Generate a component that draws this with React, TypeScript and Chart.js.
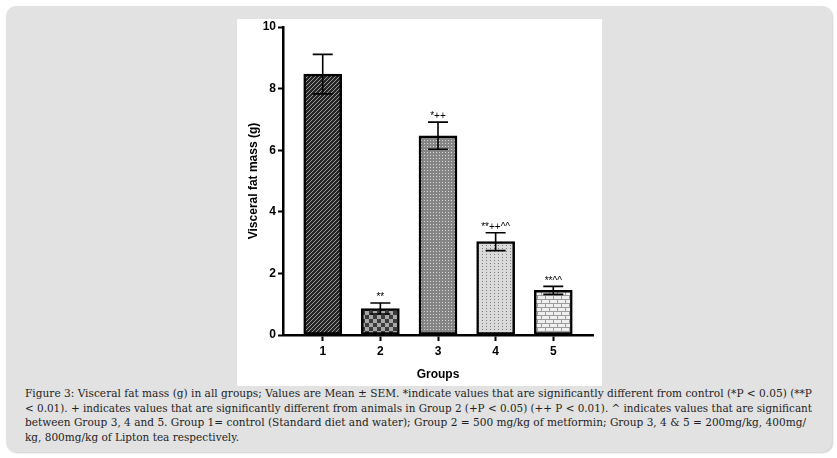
import React, { useEffect, useRef } from 'react';
import { Chart, registerables } from 'chart.js';

Chart.register(...registerables);

// ---- data ----
const groupLabels = ['1', '2', '3', '4', '5'];
const groupPositions = [1, 2, 3, 4, 5];
const meanValues = [8.47, 0.86, 6.47, 3.03, 1.45];
const semValues = [0.64, 0.18, 0.44, 0.29, 0.13];
const significanceMarks = ['', '**', '*++', '**++^^', '**^^'];
const yMin = 0;
const yMax = 10;
const yStep = 2;
const xTitle = 'Groups';
const yTitle = 'Visceral fat mass (g)';
const captionLines = [
  'Figure 3: Visceral fat mass (g) in all groups; Values are Mean \u00b1 SEM. *indicate values that are significantly different from control (*P < 0.05) (**P',
  '< 0.01). + indicates values that are significantly different from animals in Group 2 (+P < 0.05) (++ P < 0.01). ^ indicates values that are significant',
  'between Group 3, 4 and 5. Group 1= control (Standard diet and water); Group 2 = 500 mg/kg of metformin; Group 3, 4 & 5 = 200mg/kg, 400mg/',
  'kg, 800mg/kg of Lipton tea respectively.',
];
const captionTargetWidths = [787, 787, 781, 0];

// ---- patterns ----
function makePattern(kind: string): CanvasPattern | string {
  const c = document.createElement('canvas');
  const px = (ctx: CanvasRenderingContext2D, x: number, y: number, col: string) => {
    ctx.fillStyle = col;
    ctx.fillRect(x, y, 1, 1);
  };
  let ctx: CanvasRenderingContext2D;
  if (kind === 'diag') {
    c.width = 4; c.height = 4;
    ctx = c.getContext('2d')!;
    ctx.fillStyle = '#262626'; ctx.fillRect(0, 0, 4, 4);
    for (let i = 0; i < 4; i++) px(ctx, i, 3 - i, '#9a9a9a');
  } else if (kind === 'checker') {
    c.width = 8; c.height = 8;
    ctx = c.getContext('2d')!;
    ctx.fillStyle = '#a6a6a6'; ctx.fillRect(0, 0, 8, 8);
    ctx.fillStyle = '#3c3c3c'; ctx.fillRect(0, 0, 4, 4); ctx.fillRect(4, 4, 4, 4);
  } else if (kind === 'greydots') {
    c.width = 3; c.height = 3;
    ctx = c.getContext('2d')!;
    ctx.fillStyle = '#858585'; ctx.fillRect(0, 0, 3, 3);
    px(ctx, 1, 1, '#d6d6d6');
  } else if (kind === 'lightdots') {
    c.width = 4; c.height = 3;
    ctx = c.getContext('2d')!;
    ctx.fillStyle = '#dadada'; ctx.fillRect(0, 0, 4, 3);
    px(ctx, 1, 1, '#7a7a7a');
  } else {
    c.width = 8; c.height = 8;
    ctx = c.getContext('2d')!;
    ctx.fillStyle = '#efefef'; ctx.fillRect(0, 0, 8, 8);
    ctx.fillStyle = '#9c9c9c';
    ctx.fillRect(0, 0, 8, 1); ctx.fillRect(0, 4, 8, 1);
    ctx.fillRect(0, 0, 1, 4); ctx.fillRect(4, 4, 1, 4);
  }
  const main = document.createElement('canvas').getContext('2d')!;
  return main.createPattern(c, 'repeat') || '#888';
}

const barPatternKinds = ['diag', 'checker', 'greydots', 'lightdots', 'bricks'];

const errorBarPlugin = {
  id: 'errorBars',
  afterDatasetsDraw(chart: any) {
    const { ctx, scales } = chart;
    const xs = scales.x, ys = scales.y;
    ctx.save();
    ctx.strokeStyle = '#000';
    ctx.lineWidth = 1.6;
    groupPositions.forEach((pos, i) => {
      const x = xs.getPixelForValue(pos);
      const yTop = ys.getPixelForValue(meanValues[i] + semValues[i]);
      const yBot = ys.getPixelForValue(meanValues[i] - semValues[i]);
      const half = 10;
      ctx.beginPath();
      ctx.moveTo(x, yBot); ctx.lineTo(x, yTop);
      ctx.moveTo(x - half, yTop); ctx.lineTo(x + half, yTop);
      ctx.moveTo(x - half, yBot); ctx.lineTo(x + half, yBot);
      ctx.stroke();
      const mark = significanceMarks[i];
      if (mark) {
        ctx.fillStyle = '#000';
        ctx.font = '10px "Liberation Sans", Arial, sans-serif';
        ctx.textAlign = 'center';
        ctx.textBaseline = 'bottom';
        ctx.fillText(mark, x, yTop - 0.5);
      }
    });
    ctx.restore();
  },
};

function BarChart() {
  const ref = useRef<HTMLCanvasElement>(null);
  useEffect(() => {
    if (!ref.current) return;
    const tickFont = { family: '"Liberation Sans", Arial, sans-serif', size: 12, weight: 'bold' as const, lineHeight: 1 };
    const titleFont = { family: '"Liberation Sans", Arial, sans-serif', size: 12, weight: 'bold' as const, lineHeight: 1.2 };
    const chart = new Chart(ref.current, {
      type: 'bar',
      data: {
        datasets: [
          {
            data: groupPositions.map((x, i) => ({ x, y: meanValues[i] })),
            backgroundColor: barPatternKinds.map(makePattern) as any,
            borderColor: '#000',
            borderWidth: 2.5,
            borderSkipped: false,
            barThickness: 38,
          },
        ],
      },
      options: {
        animation: false,
        responsive: false,
        maintainAspectRatio: false,
        layout: { padding: { left: 0, top: 6, right: 9, bottom: 0 } },
        plugins: { legend: { display: false }, tooltip: { enabled: false } },
        scales: {
          x: {
            type: 'linear',
            offset: false,
            min: 0.311,
            max: 5.689,
            afterBuildTicks: (scale: any) => {
              scale.ticks = groupPositions.map((v) => ({ value: v }));
            },
            afterFit: (scale: any) => { scale.height = 51; },
            ticks: {
              autoSkip: false,
              color: '#000',
              font: tickFont,
              padding: 5,
              maxRotation: 0,
              callback: (v: any) => groupLabels[groupPositions.indexOf(Number(v))] ?? '',
            },
            grid: { offset: false, drawOnChartArea: false, drawTicks: true, tickLength: 6, tickWidth: 2, tickColor: '#000' },
            border: { display: true, color: '#000', width: 2.5 },
            title: { display: true, text: xTitle, color: '#000', font: titleFont, padding: { top: 0, bottom: 4 } },
          },
          y: {
            type: 'linear',
            min: yMin,
            max: yMax,
            afterFit: (scale: any) => { scale.width = 46; },
            ticks: { stepSize: yStep, color: '#000', font: tickFont, padding: 2 },
            grid: { drawOnChartArea: false, drawTicks: true, tickLength: 5, tickWidth: 2, tickColor: '#000' },
            border: { display: true, color: '#000', width: 2.5 },
            title: { display: true, text: yTitle, color: '#000', font: titleFont, padding: { top: 9, bottom: 0 } },
          },
        },
      } as any,
      plugins: [errorBarPlugin],
    });
    return () => chart.destroy();
  }, []);
  return <canvas ref={ref} width={365} height={367} style={{ display: 'block' }} />;
}

function Caption() {
  const refs = useRef<(HTMLDivElement | null)[]>([]);
  useEffect(() => {
    refs.current.forEach((el, i) => {
      if (!el) return;
      const target = captionTargetWidths[i];
      const span = el.firstChild as HTMLSpanElement;
      if (!span) return;
      const w = span.getBoundingClientRect().width;
      if (target > 0 && w > 0) {
        span.style.transform = `scaleX(${target / w})`;
      }
    });
  }, []);
  return (
    <div
      style={{
        position: 'absolute',
        left: 25,
        top: 386,
        fontFamily: '"DejaVu Serif", serif',
        fontSize: 10.5,
        lineHeight: '14.5px',
        color: '#1e1e1e',
        whiteSpace: 'nowrap',
      }}
    >
      {captionLines.map((line, i) => (
        <div key={i} ref={(el) => { refs.current[i] = el; }}>
          <span style={{ display: 'inline-block', transformOrigin: 'left center' }}>{line}</span>
        </div>
      ))}
    </div>
  );
}

export default function App() {
  return (
    <div style={{ position: 'absolute', left: 0, top: 0, width: 837, height: 458, background: '#ffffff', overflow: 'hidden' }}>
      <div
        style={{
          position: 'absolute',
          left: 6,
          top: 6,
          width: 826,
          height: 446,
          background: '#e2e2e2',
          borderRadius: 10,
          boxShadow: '1px 1px 2px rgba(0,0,0,0.2)',
        }}
      />
      <div style={{ position: 'absolute', left: 237, top: 19, width: 365, height: 367, background: '#ffffff' }}>
        <BarChart />
      </div>
      <Caption />
    </div>
  );
}
